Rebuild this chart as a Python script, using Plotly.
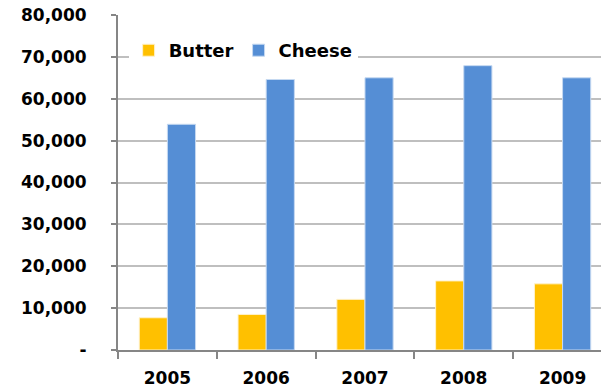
import plotly.graph_objects as go

years = ["2005", "2006", "2007", "2008", "2009"]
butter = [7700, 8500, 12100, 16500, 15800]
cheese = [53900, 64600, 65000, 67900, 65000]
y_ticks = [0, 10000, 20000, 30000, 40000, 50000, 60000, 70000, 80000]
y_labels = ["-", "10,000", "20,000", "30,000", "40,000", "50,000", "60,000", "70,000", "80,000"]

FONT = "DejaVu Sans"

fig = go.Figure()
fig.add_trace(go.Bar(x=years, y=butter, name="<b>Butter</b>",
                     marker=dict(color="#FFC000", line=dict(color="#FFF2CC", width=1))))
fig.add_trace(go.Bar(x=years, y=cheese, name="<b>Cheese</b>",
                     marker=dict(color="#558ED5", line=dict(color="#C6D9F1", width=1))))

fig.update_layout(
    width=601, height=390,
    margin=dict(l=118, r=0, t=15, b=40),
    paper_bgcolor="white", plot_bgcolor="white",
    barmode="group", bargap=0.43, bargroupgap=0,
    font=dict(family=FONT, size=17, color="black"),
    showlegend=True,
    legend=dict(orientation="h", x=0.022, y=0.894, xanchor="left", yanchor="middle",
                bgcolor="white", font=dict(family=FONT, size=18, color="black"),
                itemwidth=30, tracegroupgap=0, borderwidth=0),
    xaxis=dict(type="category", range=[-0.5, 4.389], tickson="boundaries",
               ticks="outside", ticklen=7, tickcolor="#868686", tickwidth=2,
               showline=True, linecolor="#868686", linewidth=2,
               showgrid=False, ticklabelstandoff=12,
               tickfont=dict(family=FONT, size=17, color="black", weight="bold")),
    yaxis=dict(range=[0, 80000], tickvals=y_ticks,
               ticktext=["<b>" + t + "</b>" for t in y_labels],
               ticks="outside", ticklen=5, tickcolor="#868686", tickwidth=2,
               showline=True, linecolor="#868686", linewidth=2,
               showgrid=True, gridcolor="#BFBFBF", gridwidth=1.5,
               zeroline=False, ticklabelstandoff=21,
               tickfont=dict(family=FONT, size=17, color="black")),
)

fig.write_html("out.html")
